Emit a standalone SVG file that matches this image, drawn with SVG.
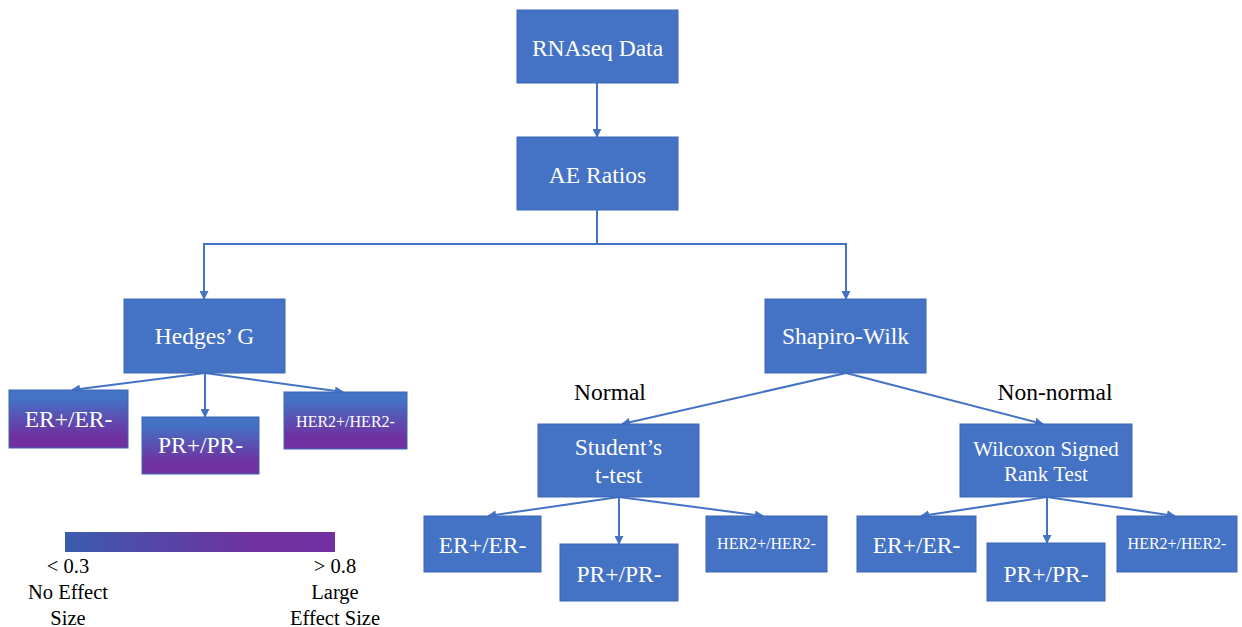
<svg xmlns="http://www.w3.org/2000/svg" width="1242" height="627" viewBox="0 0 1242 627">
<style>
.box{fill:#4472C4;stroke:#3A66B5;stroke-width:1}
.grad{fill:url(#vg);stroke:#3A66B5;stroke-width:1}
text{font-family:'Liberation Serif','Tinos','DejaVu Serif',serif}
.t{fill:#ffffff;text-anchor:middle}
.b{font-size:23.5px}
.s{font-size:16px}
.w{font-size:21px}
.lab{fill:#000000;text-anchor:middle;font-size:23.5px}
.leg{fill:#000000;text-anchor:middle;font-size:20.5px}
.c{fill:none;stroke:#4472C4;stroke-width:2;marker-end:url(#ah)}
.cn{fill:none;stroke:#4472C4;stroke-width:2}
</style>
<defs>
<marker id="ah" viewBox="0 0 10 10" refX="9" refY="5" markerWidth="4.5" markerHeight="4.5" orient="auto" markerUnits="strokeWidth">
<path d="M0,0 L10,5 L0,10 z" fill="#4472C4"/>
</marker>
<linearGradient id="vg" x1="0" y1="0" x2="0" y2="1">
<stop offset="0" stop-color="#4472C4"/>
<stop offset="0.15" stop-color="#4472C4"/>
<stop offset="0.8" stop-color="#7030A0"/>
<stop offset="1" stop-color="#7030A0"/>
</linearGradient>
<linearGradient id="hg" x1="0" y1="0" x2="1" y2="0">
<stop offset="0" stop-color="#3A5CAE"/>
<stop offset="0.7" stop-color="#7030A0"/>
<stop offset="1" stop-color="#7030A0"/>
</linearGradient>
</defs>
<rect width="1242" height="627" fill="#ffffff"/>
<g id="connectors">
<path class="c" d="M597,83 L597,137"/>
<path class="cn" d="M597,210 L597,244"/>
<path class="c" d="M597,244 L204,244 L204,299"/>
<path class="c" d="M597,244 L846,244 L846,299"/>
<path class="c" d="M205,373 L72,390"/>
<path class="c" d="M205,373 L205,417"/>
<path class="c" d="M205,373 L343,392"/>
<path class="c" d="M846,373 L622,424"/>
<path class="c" d="M846,373 L1043,424"/>
<path class="c" d="M619,497 L488,516"/>
<path class="c" d="M619,497 L619,544"/>
<path class="c" d="M619,497 L763,516"/>
<path class="c" d="M1047,497 L921,516"/>
<path class="c" d="M1047,497 L1047,543"/>
<path class="c" d="M1047,497 L1175,516"/>
</g>
<g id="rnaseq"><rect class="box" x="517" y="10" width="161" height="73"/><text class="t b" x="597.5" y="56">RNAseq Data</text></g>
<g id="ae"><rect class="box" x="517" y="137" width="161" height="73"/><text class="t b" x="597.5" y="183">AE Ratios</text></g>
<g id="hedges"><rect class="box" x="124" y="299" width="161" height="74"/><text class="t b" x="204.5" y="344">Hedges’ G</text></g>
<g id="shapiro"><rect class="box" x="765" y="299" width="161" height="74"/><text class="t b" x="845.5" y="344">Shapiro-Wilk</text></g>
<g id="h-er"><rect class="grad" x="9" y="390" width="119" height="58"/><text class="t b" x="68.5" y="427">ER+/ER-</text></g>
<g id="h-pr"><rect class="grad" x="142" y="417" width="117" height="57"/><text class="t b" x="200.5" y="453">PR+/PR-</text></g>
<g id="h-her2"><rect class="grad" x="284" y="392" width="123" height="57"/><text class="t s" x="345.5" y="427">HER2+/HER2-</text></g>
<g id="label-normal"><text class="lab" x="610" y="400">Normal</text></g>
<g id="label-nonnormal"><text class="lab" x="1055" y="400">Non-normal</text></g>
<g id="student"><rect class="box" x="538" y="424" width="161" height="73"/><text class="t b" x="618.5" y="455">Student’s</text><text class="t b" x="618.5" y="483">t-test</text></g>
<g id="wilcoxon"><rect class="box" x="960" y="424" width="172" height="73"/><text class="t w" x="1046" y="456">Wilcoxon Signed</text><text class="t w" x="1046" y="481">Rank Test</text></g>
<g id="s-er"><rect class="box" x="424" y="516" width="117" height="56"/><text class="t b" x="482.5" y="553">ER+/ER-</text></g>
<g id="s-pr"><rect class="box" x="560" y="544" width="118" height="57"/><text class="t b" x="619" y="582">PR+/PR-</text></g>
<g id="s-her2"><rect class="box" x="706" y="516" width="121" height="56"/><text class="t s" x="766.5" y="549">HER2+/HER2-</text></g>
<g id="w-er"><rect class="box" x="857" y="516" width="119" height="56"/><text class="t b" x="916.5" y="553">ER+/ER-</text></g>
<g id="w-pr"><rect class="box" x="987" y="543" width="118" height="58"/><text class="t b" x="1046" y="582">PR+/PR-</text></g>
<g id="w-her2"><rect class="box" x="1117" y="516" width="120" height="56"/><text class="t s" x="1177" y="549">HER2+/HER2-</text></g>
<g id="legend">
<rect x="65" y="532" width="270" height="20" fill="url(#hg)"/>
<text class="leg" x="68" y="573">&lt; 0.3</text>
<text class="leg" x="68" y="599">No Effect</text>
<text class="leg" x="68" y="625">Size</text>
<text class="leg" x="335" y="573">&gt; 0.8</text>
<text class="leg" x="335" y="599">Large</text>
<text class="leg" x="335" y="625">Effect Size</text>
</g>
</svg>
